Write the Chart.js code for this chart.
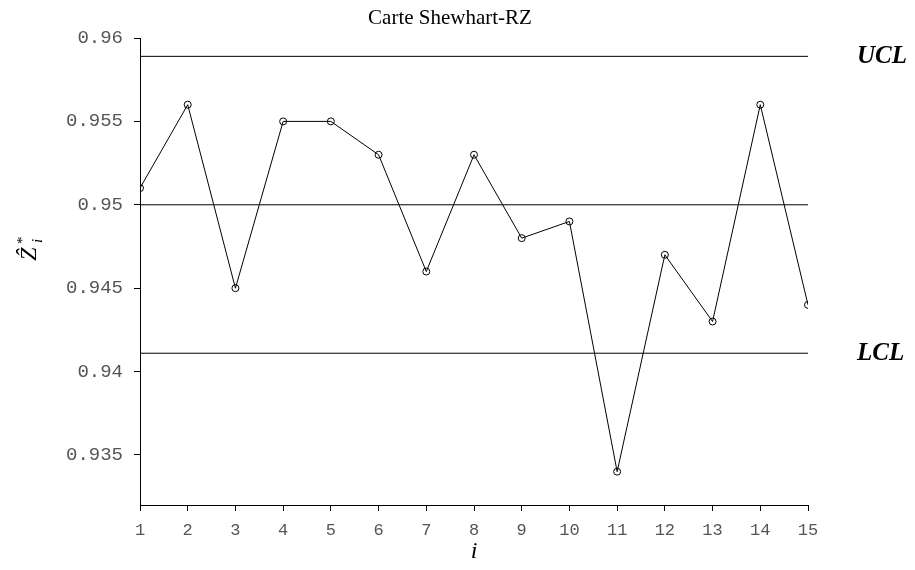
<!DOCTYPE html>
<html>
<head>
<meta charset="utf-8">
<script src="https://cdn.jsdelivr.net/npm/chart.js@4/dist/chart.umd.min.js"></script>
<style>
  html, body { margin: 0; padding: 0; background: #fff; }
  #wrap { width: 915px; height: 570px; }
</style>
</head>
<body>
<div id="wrap"><canvas id="chart"></canvas></div>
<script>
const samples = [1, 2, 3, 4, 5, 6, 7, 8, 9, 10, 11, 12, 13, 14, 15];
const zValues = [0.951, 0.956, 0.945, 0.955, 0.955, 0.953, 0.946, 0.953, 0.948, 0.949, 0.934, 0.947, 0.943, 0.956, 0.944];
const centerLine = 0.95;
const ucl = 0.9589;
const lcl = 0.9411;
const yTicks = [0.935, 0.94, 0.945, 0.95, 0.955, 0.96];
const chartTitle = "Carte Shewhart-RZ";

const first = samples[0];
const last = samples[samples.length - 1];
const hline = v => [{ x: first, y: v }, { x: last, y: v }];

const extras = {
    id: "extras",
    afterDraw(chart) {
        const ctx = chart.ctx;
        const y = chart.scales.y;
        ctx.save();
        ctx.fillStyle = "#000";
        // title
        ctx.font = "21px 'Liberation Serif'";
        ctx.textAlign = "center";
        ctx.textBaseline = "middle";
        ctx.fillText(chartTitle, 450, 18);
        // control limit labels
        ctx.font = "italic bold 25px 'Liberation Serif'";
        ctx.textAlign = "left";
        ctx.fillText("UCL", 857, y.getPixelForValue(ucl));
        ctx.fillText("LCL", 857, y.getPixelForValue(lcl));
        // x title
        ctx.textAlign = "center";
        ctx.font = "italic 24px 'Liberation Serif'";
        ctx.fillText("i", (chart.chartArea.left + chart.chartArea.right) / 2, 552);
        // y title: Z hat, star, i
        ctx.translate(30, 250);
        ctx.rotate(-Math.PI / 2);
        ctx.font = "italic 24px 'Liberation Serif'";
        ctx.fillText("Ẑ", -4, 0);
        ctx.font = "italic 15px 'Liberation Serif'";
        ctx.fillText("*", 9, -7);
        ctx.fillText("i", 9, 8);
        ctx.restore();
    }
};

new Chart(document.getElementById("chart"), {
    type: "line",
    data: {
        datasets: [
            {
                data: samples.map((s, i) => ({ x: s, y: zValues[i] })),
                borderColor: "#000",
                borderWidth: 1,
                pointRadius: 3.5,
                pointBorderWidth: 1,
                pointBorderColor: "#000",
                pointBackgroundColor: "rgba(0,0,0,0)",
                tension: 0
            },
            { data: hline(ucl), borderColor: "#000", borderWidth: 1, pointRadius: 0 },
            { data: hline(centerLine), borderColor: "#000", borderWidth: 1, pointRadius: 0 },
            { data: hline(lcl), borderColor: "#000", borderWidth: 1, pointRadius: 0 }
        ]
    },
    options: {
        responsive: true,
        maintainAspectRatio: false,
        animation: false,
        layout: { padding: { left: 0, right: 107, top: 38, bottom: 0 } },
        plugins: {
            legend: { display: false },
            tooltip: { enabled: false }
        },
        scales: {
            x: {
                type: "linear",
                min: first,
                max: last,
                afterBuildTicks: s => { s.ticks = samples.map(v => ({ value: v })); },
                afterFit: s => { s.height = 65; },
                grid: { display: true, drawOnChartArea: false, drawTicks: true, tickLength: 6, color: "#000" },
                border: { display: true, color: "#000", width: 1 },
                ticks: {
                    color: "#555",
                    padding: 9,
                    maxRotation: 0,
                    font: { family: "'Liberation Mono'", size: 17 }
                }
            },
            y: {
                min: 0.932,
                max: 0.96,
                afterBuildTicks: s => { s.ticks = yTicks.map(v => ({ value: v })); },
                afterFit: s => { s.width = 140; },
                grid: { display: true, drawOnChartArea: false, drawTicks: true, tickLength: 6, color: "#000" },
                border: { display: true, color: "#000", width: 1 },
                ticks: {
                    color: "#555",
                    padding: 11,
                    font: { family: "'Liberation Mono'", size: 19 },
                    callback: v => String(+v.toFixed(3))
                }
            }
        }
    },
    plugins: [extras]
});
</script>
</body>
</html>
